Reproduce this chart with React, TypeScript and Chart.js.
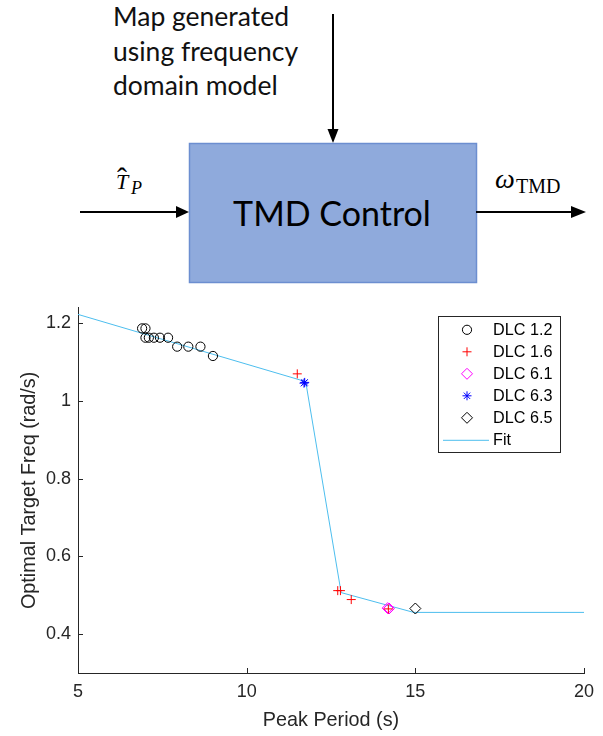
import React, { useEffect, useRef } from "react";
import { Chart, registerables } from "chart.js";

Chart.register(...registerables);

// ---- data ----
const X_TICKS = [5, 10, 15, 20];
const Y_TICKS = [0.4, 0.6, 0.8, 1, 1.2];

const DLC12_X = [6.9, 7.0, 7.0, 7.1, 7.25, 7.43, 7.67, 7.94, 8.27, 8.63, 9.0];
const DLC12_Y = [1.187, 1.187, 1.163, 1.163, 1.163, 1.163, 1.163, 1.14, 1.14, 1.14, 1.116];
const DLC16_X = [11.5, 12.7, 12.78, 13.1, 14.2];
const DLC16_Y = [1.07, 0.512, 0.512, 0.489, 0.465];
const DLC61_X = [14.18, 14.22];
const DLC61_Y = [0.467, 0.466];
const DLC63_X = [11.7, 11.72];
const DLC63_Y = [1.046, 1.048];
const DLC65_X = [15.0];
const DLC65_Y = [0.466];
const FIT_X = [5, 11.75, 12.8, 14.95, 20];
const FIT_Y = [1.223, 1.05, 0.507, 0.456, 0.456];

const LEGEND_LABELS = ["DLC 1.2", "DLC 1.6", "DLC 6.1", "DLC 6.3", "DLC 6.5", "Fit"];
const X_TITLE = "Peak Period (s)";
const Y_TITLE = "Optimal Target Freq (rad/s)";

const AXIS_COLOR = "#262626";
const FIT_COLOR = "#4DBEEE";
const FONT = "'Liberation Sans', Arial, sans-serif";

const zip = (xs: number[], ys: number[]) => xs.map((x, i) => ({ x, y: ys[i] }));

function drawMarker(ctx: CanvasRenderingContext2D, style: string, x: number, y: number, r: number, color: string) {
  ctx.save();
  ctx.strokeStyle = color;
  ctx.lineWidth = 1;
  ctx.beginPath();
  if (style === "circle") {
    ctx.arc(x, y, r, 0, Math.PI * 2);
  } else if (style === "cross") {
    ctx.moveTo(x - r, y); ctx.lineTo(x + r, y);
    ctx.moveTo(x, y - r); ctx.lineTo(x, y + r);
  } else if (style === "rectRot") {
    ctx.moveTo(x, y - r); ctx.lineTo(x + r, y); ctx.lineTo(x, y + r); ctx.lineTo(x - r, y); ctx.closePath();
  } else if (style === "star") {
    ctx.moveTo(x - r, y); ctx.lineTo(x + r, y);
    ctx.moveTo(x, y - r); ctx.lineTo(x, y + r);
    const d = r * 0.7071;
    ctx.moveTo(x - d, y - d); ctx.lineTo(x + d, y + d);
    ctx.moveTo(x - d, y + d); ctx.lineTo(x + d, y - d);
  }
  ctx.stroke();
  ctx.restore();
}

const axisTicksPlugin = {
  id: "inwardTicks",
  afterDraw(chart: any) {
    const { ctx, chartArea: ca, scales } = chart;
    ctx.save();
    ctx.strokeStyle = AXIS_COLOR;
    ctx.lineWidth = 1;
    ctx.beginPath();
    for (const v of X_TICKS) {
      const px = Math.round(scales.x.getPixelForValue(v)) + 0.5;
      ctx.moveTo(px, ca.bottom);
      ctx.lineTo(px, ca.bottom - 5);
    }
    for (const v of Y_TICKS) {
      const py = Math.round(scales.y.getPixelForValue(v)) + 0.5;
      ctx.moveTo(ca.left, py);
      ctx.lineTo(ca.left + 5, py);
    }
    ctx.stroke();
    ctx.restore();
  },
};

const legendPlugin = {
  id: "matlabLegend",
  afterDraw(chart: any) {
    const { ctx, chartArea: ca } = chart;
    const w = 122;
    const h = 136;
    const x0 = ca.right - 24 - w;
    const y0 = ca.top + 8;
    ctx.save();
    ctx.fillStyle = "#ffffff";
    ctx.fillRect(x0, y0, w, h);
    ctx.strokeStyle = AXIS_COLOR;
    ctx.lineWidth = 1;
    ctx.strokeRect(Math.round(x0) + 0.5, Math.round(y0) + 0.5, w, h);
    ctx.font = `16.2px ${FONT}`;
    ctx.fillStyle = "#000000";
    ctx.textBaseline = "middle";
    ctx.textAlign = "left";
    chart.data.datasets.forEach((ds: any, i: number) => {
      const y = y0 + 14 + 22 * i;
      if (ds.showLine) {
        ctx.save();
        ctx.strokeStyle = ds.borderColor;
        ctx.lineWidth = 1;
        ctx.beginPath();
        ctx.moveTo(x0 + 5, y + 0.5);
        ctx.lineTo(x0 + 51, y + 0.5);
        ctx.stroke();
        ctx.restore();
      } else {
        drawMarker(ctx, ds.pointStyle, x0 + 29, y, ds.pointRadius, ds.borderColor);
      }
      ctx.fillText(LEGEND_LABELS[i], x0 + 55, y + 1);
    });
    ctx.restore();
  },
};

function TmdChart() {
  const ref = useRef<HTMLCanvasElement | null>(null);
  useEffect(() => {
    if (!ref.current) return;
    const scatter = (label: string, xs: number[], ys: number[], style: string, color: string, r: number) => ({
      label,
      data: zip(xs, ys),
      pointStyle: style,
      pointRadius: r,
      pointHoverRadius: r,
      borderColor: color,
      backgroundColor: "rgba(0,0,0,0)",
      pointBorderWidth: 1,
      borderWidth: 1,
      showLine: false,
    });
    const chart = new Chart(ref.current, {
      type: "scatter",
      data: {
        datasets: [
          scatter(LEGEND_LABELS[0], DLC12_X, DLC12_Y, "circle", "#000000", 4.6),
          scatter(LEGEND_LABELS[1], DLC16_X, DLC16_Y, "cross", "#FF0000", 4.5),
          scatter(LEGEND_LABELS[2], DLC61_X, DLC61_Y, "rectRot", "#FF00FF", 5.5),
          scatter(LEGEND_LABELS[3], DLC63_X, DLC63_Y, "star", "#0000FF", 4.5),
          scatter(LEGEND_LABELS[4], DLC65_X, DLC65_Y, "rectRot", "#000000", 5.5),
          {
            label: LEGEND_LABELS[5],
            data: zip(FIT_X, FIT_Y),
            showLine: true,
            borderColor: FIT_COLOR,
            backgroundColor: FIT_COLOR,
            borderWidth: 1,
            pointRadius: 0,
            pointHoverRadius: 0,
            tension: 0,
          } as any,
        ],
      },
      options: {
        animation: false,
        responsive: false,
        devicePixelRatio: 1,
        events: [],
        layout: { padding: { top: 13, right: 19, left: 0, bottom: 0 } },
        plugins: { legend: { display: false }, tooltip: { enabled: false } },
        scales: {
          x: {
            type: "linear",
            min: 5,
            max: 20,
            afterBuildTicks: (s: any) => { s.ticks = X_TICKS.map((v) => ({ value: v })); },
            afterFit: (s: any) => { s.height = 63; },
            grid: { display: false, drawTicks: false },
            border: { display: true, color: AXIS_COLOR, width: 1 },
            ticks: {
              color: AXIS_COLOR,
              padding: 8,
              font: { family: FONT, size: 18 },
              callback: (v: any) => String(v),
              maxRotation: 0,
            },
            title: {
              display: true,
              text: X_TITLE,
              color: AXIS_COLOR,
              font: { family: FONT, size: 19.8 },
              padding: { top: 0, bottom: 4 },
            },
          },
          y: {
            type: "linear",
            min: 0.3,
            max: 1.24,
            afterBuildTicks: (s: any) => { s.ticks = Y_TICKS.map((v) => ({ value: v })); },
            afterFit: (s: any) => { s.width = 78; },
            grid: { display: false, drawTicks: false },
            border: { display: true, color: AXIS_COLOR, width: 1 },
            ticks: {
              color: AXIS_COLOR,
              padding: 7,
              font: { family: FONT, size: 18 },
              callback: (v: any) => String(v),
            },
            title: {
              display: true,
              text: Y_TITLE,
              color: AXIS_COLOR,
              font: { family: FONT, size: 19.8 },
              padding: { top: 18, bottom: 0 },
            },
          },
        },
      } as any,
      plugins: [axisTicksPlugin, legendPlugin],
    });
    return () => chart.destroy();
  }, []);
  return (
    <canvas
      ref={ref}
      width={603}
      height={446}
      style={{ position: "absolute", left: 0, top: 290, width: 603, height: 446, display: "block" }}
    />
  );
}

function Diagram() {
  const sans = "Lato, 'Open Sans', sans-serif";
  const serif = "'Liberation Serif', 'DejaVu Serif', serif";
  return (
    <svg width={603} height={290} style={{ position: "absolute", left: 0, top: 0 }}>
      <text x={113} y={26} fontFamily={sans} fontSize={26.5} fill="#111">Map generated</text>
      <text x={113} y={61} fontFamily={sans} fontSize={26.5} fill="#111">using frequency</text>
      <text x={113} y={95} fontFamily={sans} fontSize={26.5} fill="#111">domain model</text>
      {/* vertical arrow */}
      <line x1={333} y1={14} x2={333} y2={131} stroke="#000" strokeWidth={2} />
      <polygon points="333,143 327.5,129 338.5,129" fill="#000" />
      {/* box */}
      <rect x={189.5} y={143.5} width={287} height={139} fill="#8FAADC" stroke="#6C8ED0" strokeWidth={1.5} />
      <text x={332} y={226} textAnchor="middle" fontFamily={sans} fontSize={34} fill="#000">TMD Control</text>
      {/* input arrow */}
      <line x1={80} y1={212} x2={178} y2={212} stroke="#000" strokeWidth={2} />
      <polygon points="189,212 176,206 176,218" fill="#000" />
      <text x={116} y={189} fontFamily={serif} fontStyle="italic" fontSize={22} fill="#000">T</text>
      <text x={117} y={188} fontFamily={serif} fontSize={30} fill="#000">ˆ</text>
      <text x={131} y={194} fontFamily={serif} fontStyle="italic" fontSize={18} fill="#000">P</text>
      {/* output arrow */}
      <line x1={476} y1={212} x2={573} y2={212} stroke="#000" strokeWidth={2} />
      <polygon points="586,212 571,206 571,218" fill="#000" />
      <text x={495} y={188} fontFamily={serif} fontStyle="italic" fontSize={28} fill="#000">ω</text>
      <text x={516} y={193} fontFamily={serif} fontSize={20} fill="#000">TMD</text>
    </svg>
  );
}

export default function App() {
  return (
    <div style={{ position: "absolute", left: 0, top: 0, width: 603, height: 736, background: "#fff", overflow: "hidden" }}>
      <Diagram />
      <TmdChart />
    </div>
  );
}
